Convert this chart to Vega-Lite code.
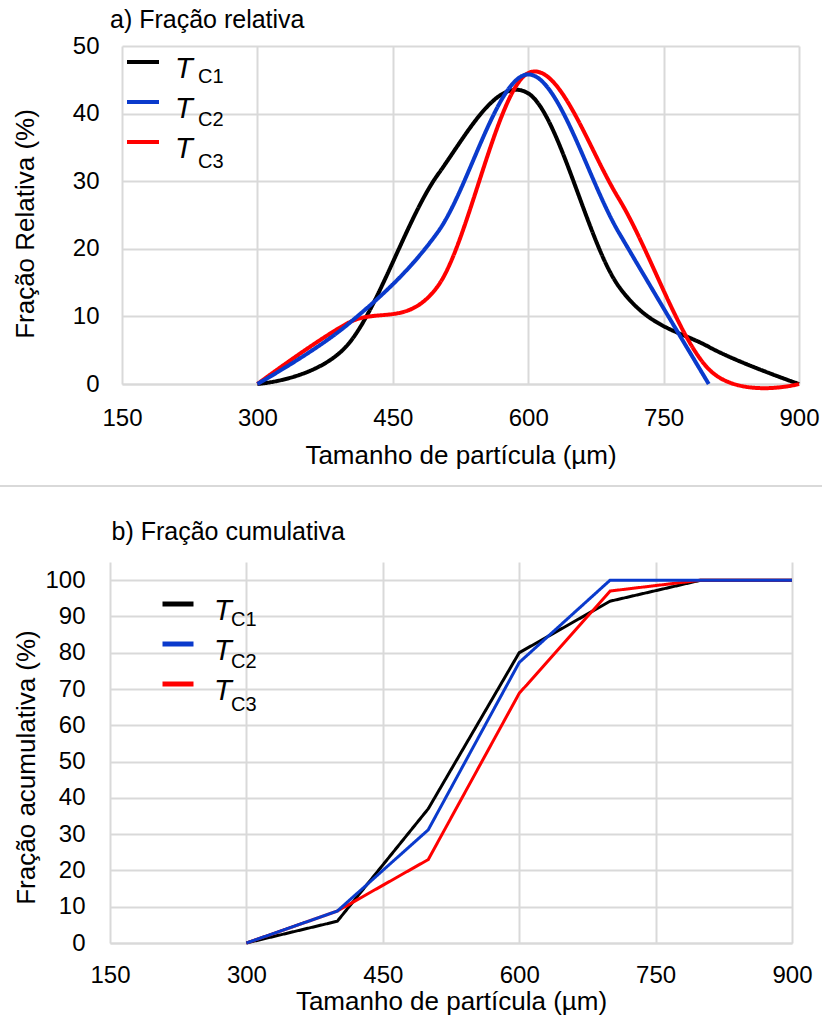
{
  "$schema": "https://vega.github.io/schema/vega-lite/v6.json",
  "width": 822,
  "height": 970,
  "autosize": "none",
  "padding": {"left": 0, "top": 46, "right": 0, "bottom": 0},
  "title": {"text": "a) Fração relativa", "anchor": "start", "frame": "group", "fontSize": 25, "fontWeight": "normal", "font": "Liberation Sans", "color": "#000000", "baseline": "alphabetic", "offset": -19, "dx": 110},
  "config": {
    "view": {"stroke": null},
    "font": "Liberation Sans",
    "axis": {
      "labelFont": "Liberation Sans",
      "titleFont": "Liberation Sans",
      "labelFontSize": 24,
      "titleFontSize": 26,
      "titleFontWeight": "normal",
      "labelColor": "#000000",
      "titleColor": "#000000",
      "ticks": false,
      "gridColor": "#d9d9d9",
      "gridWidth": 2,
      "domainColor": "#d9d9d9",
      "domainWidth": 2,
      "labelFlush": false,
      "labelOverlap": false
    },
    "legend": {
      "labelFont": "Liberation Sans",
      "labelColor": "#000000",
      "labelLimit": 200,
      "padding": 0,
      "title": null
    }
  },
  "datasets": {
    "relative": [
      {"size": 300, "fraction": 0, "series": "TC1", "sub": "C1"},
      {"size": 400, "fraction": 5.8, "series": "TC1", "sub": "C1"},
      {"size": 500, "fraction": 31, "series": "TC1", "sub": "C1"},
      {"size": 600, "fraction": 43, "series": "TC1", "sub": "C1"},
      {"size": 700, "fraction": 14.5, "series": "TC1", "sub": "C1"},
      {"size": 800, "fraction": 5.5, "series": "TC1", "sub": "C1"},
      {"size": 900, "fraction": 0, "series": "TC1", "sub": "C1"},
      {"size": 300, "fraction": 0, "series": "TC3", "sub": "C3"},
      {"size": 400, "fraction": 9, "series": "TC3", "sub": "C3"},
      {"size": 500, "fraction": 14.5, "series": "TC3", "sub": "C3"},
      {"size": 600, "fraction": 46, "series": "TC3", "sub": "C3"},
      {"size": 700, "fraction": 27.5, "series": "TC3", "sub": "C3"},
      {"size": 800, "fraction": 2.2, "series": "TC3", "sub": "C3"},
      {"size": 900, "fraction": 0, "series": "TC3", "sub": "C3"},
      {"size": 300, "fraction": 0, "series": "TC2", "sub": "C2"},
      {"size": 400, "fraction": 8.8, "series": "TC2", "sub": "C2"},
      {"size": 500, "fraction": 22.5, "series": "TC2", "sub": "C2"},
      {"size": 600, "fraction": 45.8, "series": "TC2", "sub": "C2"},
      {"size": 700, "fraction": 22.5, "series": "TC2", "sub": "C2"},
      {"size": 800, "fraction": 0, "series": "TC2", "sub": "C2"}
    ],
    "cumulative": [
      {"size": 300, "fraction": 0, "series": "TC1", "sub": "C1"},
      {"size": 400, "fraction": 6, "series": "TC1", "sub": "C1"},
      {"size": 500, "fraction": 37, "series": "TC1", "sub": "C1"},
      {"size": 600, "fraction": 80, "series": "TC1", "sub": "C1"},
      {"size": 700, "fraction": 94.2, "series": "TC1", "sub": "C1"},
      {"size": 800, "fraction": 100, "series": "TC1", "sub": "C1"},
      {"size": 900, "fraction": 100, "series": "TC1", "sub": "C1"},
      {"size": 300, "fraction": 0, "series": "TC3", "sub": "C3"},
      {"size": 400, "fraction": 8.8, "series": "TC3", "sub": "C3"},
      {"size": 500, "fraction": 23, "series": "TC3", "sub": "C3"},
      {"size": 600, "fraction": 68.8, "series": "TC3", "sub": "C3"},
      {"size": 700, "fraction": 97, "series": "TC3", "sub": "C3"},
      {"size": 800, "fraction": 100, "series": "TC3", "sub": "C3"},
      {"size": 900, "fraction": 100, "series": "TC3", "sub": "C3"},
      {"size": 300, "fraction": 0, "series": "TC2", "sub": "C2"},
      {"size": 400, "fraction": 8.8, "series": "TC2", "sub": "C2"},
      {"size": 500, "fraction": 31.2, "series": "TC2", "sub": "C2"},
      {"size": 600, "fraction": 77.3, "series": "TC2", "sub": "C2"},
      {"size": 700, "fraction": 100, "series": "TC2", "sub": "C2"},
      {"size": 800, "fraction": 100, "series": "TC2", "sub": "C2"},
      {"size": 900, "fraction": 100, "series": "TC2", "sub": "C2"}
    ],
    "separator": [{"level": 0}]
  },
  "resolve": {"scale": {"x": "independent", "y": "independent", "color": "independent", "strokeDash": "independent"}},
  "layer": [
    {
      "data": {"name": "relative"},
      "mark": {"type": "line", "interpolate": "cardinal", "strokeWidth": 4},
      "encoding": {
        "x": {
          "field": "size", "type": "quantitative",
          "scale": {"domain": [150, 900], "range": [122, 799], "nice": false, "zero": false},
          "axis": {"orient": "top", "offset": -338, "values": [150, 300, 450, 600, 750, 900], "title": "Tamanho de  partícula (µm)", "labelPadding": -41, "labelBaseline": "alphabetic", "titleBaseline": "alphabetic", "titleY": 79, "grid": true, "domain": true}
        },
        "y": {
          "field": "fraction", "type": "quantitative",
          "scale": {"domain": [0, 50], "range": [338, 0], "nice": false},
          "axis": {"orient": "left", "offset": -122, "values": [0, 10, 20, 30, 40, 50], "title": "Fração Relativa (%)", "labelPadding": 23, "titlePadding": 33.5, "titleY": 177.5, "grid": true, "domain": false}
        },
        "color": {
          "field": "series", "type": "nominal",
          "scale": {"domain": ["TC1", "TC2", "TC3"], "range": ["#000000", "#0a3acc", "#ff0000"]},
          "legend": {
            "orient": "none", "legendX": 125, "legendY": -2,
            "labelExpr": "'T'", "labelFontSize": 29, "labelFontStyle": "italic",
            "symbolType": "stroke", "symbolSize": 1024, "symbolStrokeWidth": 4,
            "labelOffset": 14, "rowPadding": 0,
            "encode": {
              "labels": {"update": {"dy": {"value": 7}}},
              "symbols": {"update": {"stroke": {"signal": "datum.value === 'TC1' ? '#000000' : datum.value === 'TC2' ? '#4472c4' : '#ff0000'"}}}
            }
          }
        },
        "strokeDash": {
          "field": "sub", "type": "nominal",
          "scale": {"domain": ["C1", "C2", "C3"], "range": [[1, 0], [1, 0], [1, 0]]},
          "legend": {
            "orient": "none", "legendX": 178, "legendY": 21,
            "labelFontSize": 20, "symbolType": "stroke", "symbolSize": 1, "symbolOpacity": 0,
            "labelOffset": 0, "rowPadding": 22.5
          }
        }
      }
    },
    {
      "data": {"name": "cumulative"},
      "mark": {"type": "line", "strokeWidth": 3},
      "encoding": {
        "x": {
          "field": "size", "type": "quantitative",
          "scale": {"domain": [150, 900], "range": [110, 792], "nice": false, "zero": false},
          "axis": {"orient": "top", "offset": -897, "values": [150, 300, 450, 600, 750, 900], "title": "Tamanho de  partícula (µm)", "labelPadding": -39, "labelBaseline": "alphabetic", "titleBaseline": "alphabetic", "titleY": 66, "grid": true, "domain": true}
        },
        "y": {
          "field": "fraction", "type": "quantitative",
          "scale": {"domain": [0, 105], "range": [897, 516], "nice": false},
          "axis": {"orient": "left", "offset": -110, "values": [0, 10, 20, 30, 40, 50, 60, 70, 80, 90, 100], "title": "Fração acumulativa (%)", "labelPadding": 25, "titlePadding": 5, "titleY": 721, "grid": true, "domain": false}
        },
        "color": {
          "field": "series", "type": "nominal",
          "scale": {"domain": ["TC1", "TC2", "TC3"], "range": ["#000000", "#0a3acc", "#ff0000"]},
          "legend": {
            "orient": "none", "legendX": 160, "legendY": 540,
            "labelExpr": "'T'", "labelFontSize": 29, "labelFontStyle": "italic",
            "symbolType": "stroke", "symbolSize": 961, "symbolStrokeWidth": 5,
            "labelOffset": 18, "rowPadding": 0,
            "encode": {
              "labels": {"update": {"dy": {"value": 7}}},
              "symbols": {"update": {"stroke": {"signal": "datum.value === 'TC1' ? '#000000' : datum.value === 'TC2' ? '#4472c4' : '#ff0000'"}}}
            }
          }
        },
        "strokeDash": {
          "field": "sub", "type": "nominal",
          "scale": {"domain": ["C1", "C2", "C3"], "range": [[1, 0], [1, 0], [1, 0]]},
          "legend": {
            "orient": "none", "legendX": 211, "legendY": 563.5,
            "labelFontSize": 20, "symbolType": "stroke", "symbolSize": 1, "symbolOpacity": 0,
            "labelOffset": 0, "rowPadding": 22.5
          }
        }
      }
    },
    {
      "data": {"name": "separator"},
      "mark": {"type": "rule", "color": "#d9d9d9", "strokeWidth": 2},
      "encoding": {
        "y": {
          "field": "level", "type": "quantitative",
          "scale": {"domain": [0, 1], "range": [440, 0]},
          "axis": {"orient": "left", "offset": 0, "labels": false, "ticks": false, "domain": false, "grid": false, "title": "b) Fração cumulativa", "titleAngle": 0, "titleAlign": "left", "titleBaseline": "alphabetic", "titleFontSize": 25, "titleX": 111, "titleY": 493}
        }
      }
    }
  ]
}
